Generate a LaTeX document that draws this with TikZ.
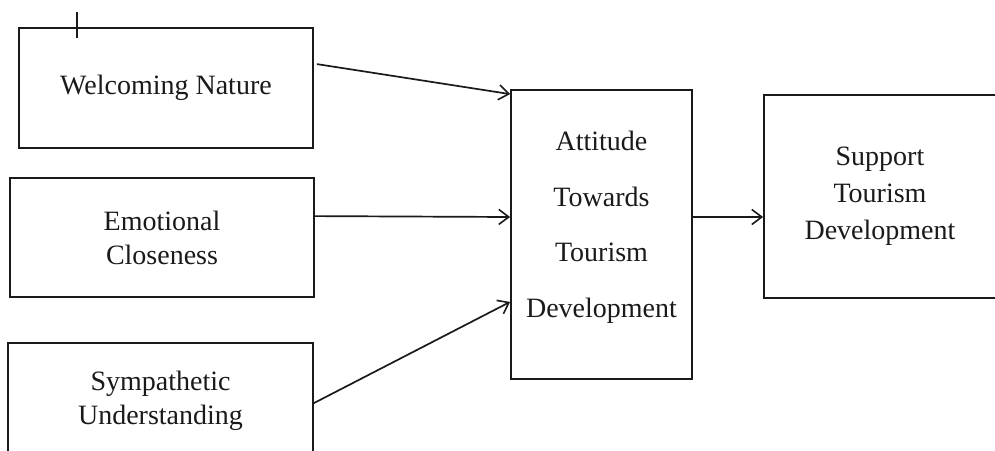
\documentclass[tikz,border=0pt]{standalone}
\usepackage{fontspec}
\setmainfont{Liberation Serif}
\usetikzlibrary{arrows.meta,positioning}
\definecolor{ink}{HTML}{1A1A1A}
\tikzset{
  box/.style={draw=ink, line width=1.8pt, inner sep=0pt, align=center, text=ink,
              font=\fontsize{28}{34}\selectfont},
  txt/.style={inner sep=0pt, align=center, text=ink},
  lnk/.style={-{Straight Barb[length=10pt, width=15pt, line width=1.6pt]}, line width=1.7pt, draw=ink},
}
\begin{document}
\begin{tikzpicture}[x=1pt, y=-1pt]
    \useasboundingbox (0,0) rectangle (995,450);
    \clip (0,0) rectangle (995,450);
    \node[box, minimum width=294pt, minimum height=120pt] (wn) at (166,88) {Welcoming Nature};
    \node[box, minimum width=304pt, minimum height=119pt] (ec) at (162,237.5) {Emotional\\Closeness};
    \node[box, minimum width=305pt, minimum height=115pt] (su) at (160.5,400.5) {Sympathetic\\Understanding};
    \node[box, minimum width=181pt, minimum height=289pt] (att) at (601.5,234.5) {};
    \node[txt, font=\fontsize{28}{55.5}\selectfont] (atttext) at ([yshift=7pt]att.center)
          {Attitude\\Towards\\Tourism\\Development};
    \node[box, font=\fontsize{28}{37}\selectfont, minimum width=232pt, minimum height=203pt] (sup) at (880,196.5)
          {Support\\Tourism\\Development};
    % cursor mark on the first box
    \coordinate (mk) at (77,12);
    \draw[line width=2pt, draw=ink] (mk) -- ++(0,26);
    % links
    \draw[lnk] ([xshift=3pt, yshift=-37pt]wn.north east) -- ([yshift=-5pt]att.north west);
    \draw[lnk] ([yshift=-39pt]ec.north east) -- ([yshift=17.5pt]att.west);
    \draw[lnk] ([yshift=-61pt]su.north east) -- ([yshift=78pt]att.south west);
    \draw[lnk] ([yshift=17.5pt]att.east) -- ([yshift=17.5pt]att.east -| sup.west);
\end{tikzpicture}
\end{document}
